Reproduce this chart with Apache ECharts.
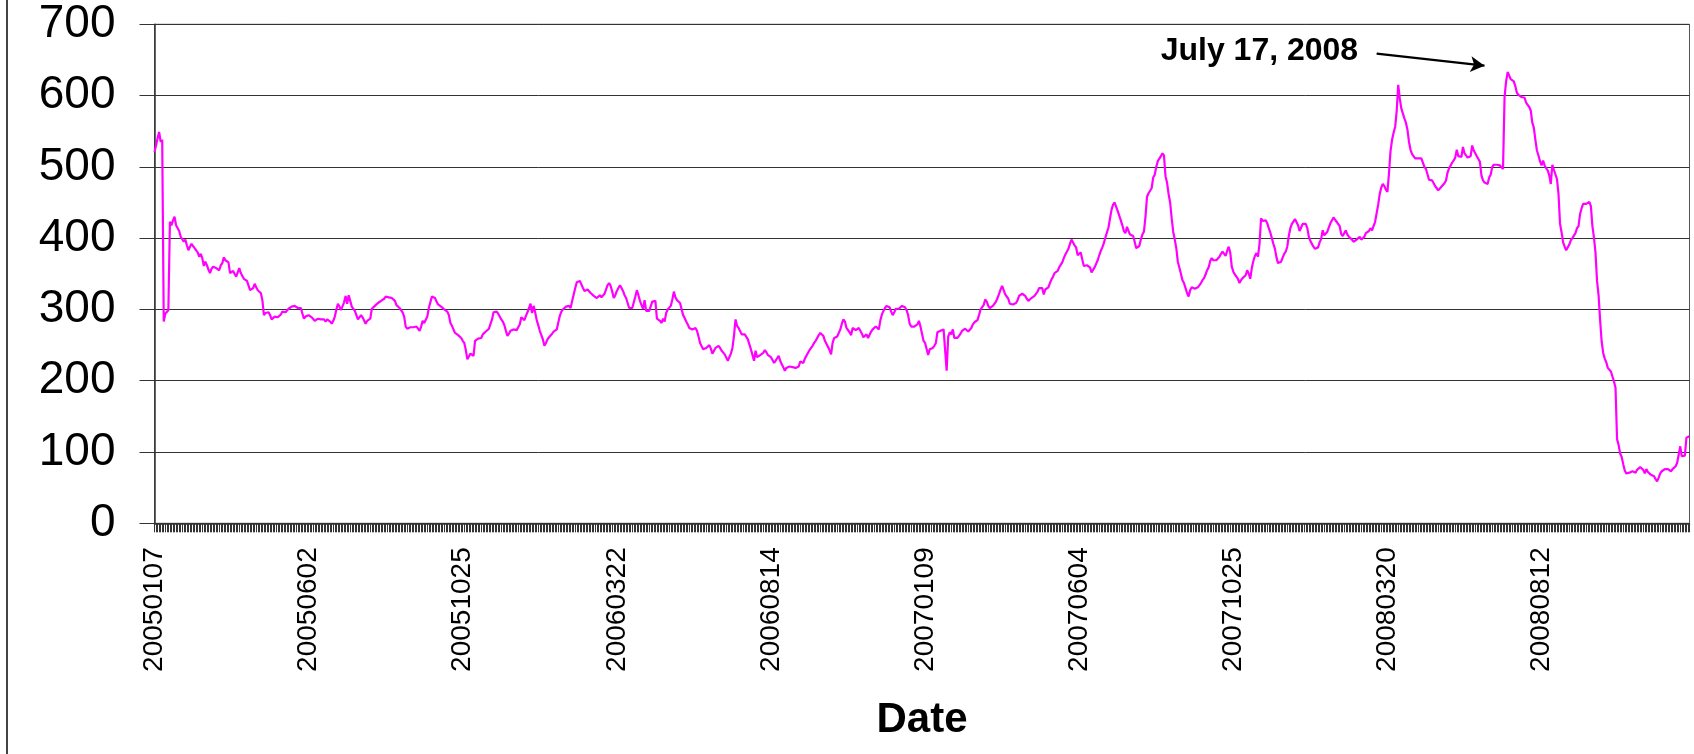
<!DOCTYPE html>
<html>
<head>
<meta charset="utf-8">
<script src="https://cdn.jsdelivr.net/npm/echarts@6/dist/echarts.min.js"></script>
<style>
  html, body { margin: 0; padding: 0; background: #ffffff; }
  #chart { width: 1694px; height: 754px; }
</style>
</head>
<body>
<div id="chart"></div>
<script>
// Daily values, one per trading day, starting 2005-01-07
const values = [
521,530,540,549,535,538,283,294,296,299,
423,418,425,430,418,416,410,402,400,395,
398,390,383,388,392,394,386,384,380,374,
378,372,361,367,362,356,351,357,360,358,
358,356,355,362,365,373,369,367,366,351,
353,354,355,346,352,358,351,347,343,341,
340,339,327,326,330,336,331,327,325,323,
313,292,295,297,296,292,286,288,290,289,
289,289,293,297,297,296,294,301,301,304,
306,305,303,302,302,302,294,287,290,292,
292,290,289,287,284,286,287,286,286,285,
286,283,286,287,283,280,284,290,300,308,
304,299,297,310,319,308,320,312,304,304,
298,292,286,289,292,289,287,280,284,285,
287,301,303,305,307,309,311,312,314,315,
318,320,317,315,316,318,312,306,304,302,
301,296,290,276,273,274,275,274,275,275,
276,273,270,276,284,281,279,290,302,310,
318,318,316,311,307,306,304,302,300,298,
297,292,281,277,272,267,266,264,263,260,
256,253,243,230,234,238,236,235,256,258,
259,257,260,265,267,269,271,273,274,286,
296,298,297,294,290,286,283,278,270,263,
266,270,271,272,271,271,275,279,289,287,
285,291,296,298,308,295,305,296,285,278,
270,264,258,249,253,258,261,263,266,269,
271,272,274,291,297,300,302,304,306,305,
302,312,321,330,338,340,340,339,330,326,
327,328,326,323,321,319,318,316,318,320,
317,315,322,328,334,337,333,325,316,320,
326,330,334,330,326,320,316,314,302,302,
302,310,318,327,320,312,306,301,313,298,
298,298,298,311,312,312,287,285,284,281,
287,283,295,300,302,305,314,325,317,313,
311,309,307,292,288,283,279,274,273,272,
273,274,270,262,253,251,244,245,246,248,
250,245,238,240,246,248,249,246,242,240,
237,235,228,228,238,246,263,286,277,274,
272,265,265,265,265,258,251,244,236,228,
242,233,235,236,237,239,243,240,236,237,
233,229,225,228,230,235,228,223,219,214,
218,219,220,220,219,218,218,219,220,227,
226,225,231,235,239,243,246,249,253,256,
260,264,267,266,263,256,252,250,243,237,
253,260,261,262,263,272,280,286,283,274,
272,268,264,274,272,271,270,274,270,266,
261,262,265,260,258,269,272,273,276,276,
272,285,293,298,302,305,304,303,297,292,
296,301,301,301,302,305,304,303,299,292,
280,276,275,276,278,279,284,276,266,256,
253,252,236,244,245,246,249,253,268,269,
270,271,272,272,214,262,268,265,272,260,
260,260,263,266,270,271,273,273,269,270,
274,279,282,281,285,292,300,301,306,314,
311,305,302,303,305,308,311,316,322,328,
333,327,321,320,315,308,307,307,307,309,
313,319,320,322,322,319,315,312,314,316,
317,319,321,325,330,330,330,321,328,327,
331,337,342,346,351,352,354,359,360,366,
372,377,381,385,392,398,394,390,387,376,
377,380,370,361,362,362,361,359,352,352,
359,359,369,376,382,387,393,401,402,415,
428,440,447,450,450,438,439,425,418,410,
407,416,410,405,404,403,395,386,384,389,
398,405,409,430,458,463,463,470,485,489,
500,508,510,515,519,516,487,478,462,450,
428,409,398,386,367,365,350,341,337,330,
323,318,327,331,331,329,330,331,332,337,
341,344,349,355,359,368,372,369,368,369,
370,374,378,381,382,375,382,388,380,360,
353,349,346,343,337,341,344,346,348,355,
350,343,358,368,375,379,374,392,428,424,
424,425,421,414,408,400,392,385,373,365,
366,367,367,378,381,388,403,414,420,423,
427,426,418,410,415,420,422,420,414,402,
396,392,388,385,383,387,394,399,411,404,
405,409,411,421,423,429,426,423,423,417,
406,403,405,411,405,402,400,398,395,394,
398,400,402,398,399,402,407,407,410,414,
411,409,423,435,447,462,471,476,473,468,
465,491,522,538,548,556,578,615,596,582,
575,568,562,552,535,524,518,516,512,512,
512,511,512,510,500,497,495,482,480,481,
477,473,470,467,468,472,474,477,481,492,
498,502,506,509,513,524,515,513,514,528,
519,516,513,514,515,530,523,525,515,511,
507,488,481,478,476,476,485,489,500,503,
504,503,502,502,500,497,598,620,633,628,
623,622,620,613,604,601,599,598,598,597,
590,587,584,579,562,555,538,523,516,508,
502,509,502,498,495,488,476,503,496,494,
483,462,420,408,394,388,383,385,391,397,
400,401,407,414,417,434,442,448,450,448,
446,451,445,417,401,380,340,320,285,255,
239,231,226,218,217,213,206,199,190,118,
110,98,93,83,74,70,69,71,70,73,
73,71,75,77,79,78,75,70,76,72,
70,68,70,66,62,59,64,70,73,75,
76,76,76,76,73,76,78,80,85,87,
108,94,94,95,120,118,122
];

// Category labels shown on the x axis (every 100th trading day)
const tickLabels = ['20050107','20050602','20051025','20060322','20060814',
                    '20070109','20070604','20071025','20080320','20080812'];
const labelEvery = 100;

const yTicks = [0, 100, 200, 300, 400, 500, 600, 700];

// Annotation: text and arrow, anchored in data coordinates [category index, value]
const annotationText = 'July 17, 2008';
const annotationTextAnchor = [781, 662];
const annotationArrowFrom = [793, 659];
const annotationArrowTo = [863, 642];

const categories = values.map((v, i) => String(i));

const FONT = "'Liberation Sans', Arial, Helvetica, sans-serif";

const chart = echarts.init(document.getElementById('chart'), null, { renderer: 'canvas' });

const option = {
  animation: false,
  backgroundColor: '#ffffff',
  textStyle: { fontFamily: FONT },
  grid: {
    left: 154.5, right: 4.5, top: 24.3, bottom: 230.7,
    show: true, borderColor: '#555', borderWidth: 1, backgroundColor: 'transparent'
  },
  xAxis: {
    type: 'category',
    data: categories,
    boundaryGap: false,
    name: 'Date',
    nameLocation: 'middle',
    nameGap: 176,
    nameTextStyle: { fontFamily: FONT, fontSize: 42, fontWeight: 'bold', color: '#000' },
    axisLine: { show: true, lineStyle: { color: '#333', width: 1.5 } },
    axisTick: { show: true, interval: 0, length: 9, lineStyle: { color: '#333', width: 1 } },
    axisLabel: {
      interval: function (i) { return i % labelEvery === 0; },
      rotate: 90,
      margin: 24,
      fontFamily: FONT,
      fontSize: 28,
      color: '#000',
      formatter: function (val) {
        const i = Number(val);
        return (i % labelEvery === 0 && tickLabels[i / labelEvery]) ? tickLabels[i / labelEvery] : '';
      }
    },
    splitLine: { show: false }
  },
  yAxis: {
    type: 'value',
    min: yTicks[0],
    max: yTicks[yTicks.length - 1],
    interval: 100,
    axisLine: { show: true, lineStyle: { color: '#333', width: 1.5 } },
    axisTick: { show: true, length: 15, lineStyle: { color: '#333', width: 1 } },
    axisLabel: { fontFamily: FONT, fontSize: 46, color: '#000', margin: 39 },
    splitLine: { show: true, lineStyle: { color: '#333', width: 1 } }
  },
  series: [{
    type: 'line',
    data: values,
    showSymbol: false,
    symbol: 'none',
    lineStyle: { color: '#ff00ff', width: 2.2 },
    itemStyle: { color: '#ff00ff' },
    markLine: {
      silent: true,
      symbol: ['none', 'arrow'],
      symbolSize: [12, 14],
      label: { show: false },
      lineStyle: { color: '#000', width: 2.3, type: 'solid' },
      emphasis: { disabled: true },
      data: [[
        { coord: [String(annotationArrowFrom[0]), annotationArrowFrom[1]] },
        { coord: [String(annotationArrowTo[0]), annotationArrowTo[1]] }
      ]]
    }
  }]
};

chart.setOption(option);

const textPos = chart.convertToPixel({ xAxisIndex: 0, yAxisIndex: 0 }, annotationTextAnchor);
chart.setOption({
  graphic: [
    {
      type: 'rect',
      left: 6, top: 0,
      shape: { width: 2, height: 754 },
      style: { fill: '#444' },
      silent: true
    },
    {
      type: 'text',
      x: textPos[0], y: textPos[1],
      style: {
        text: annotationText,
        font: "bold 32px " + FONT,
        fill: '#000',
        textAlign: 'right',
        textVerticalAlign: 'middle'
      },
      silent: true
    }
  ]
});
</script>
</body>
</html>
